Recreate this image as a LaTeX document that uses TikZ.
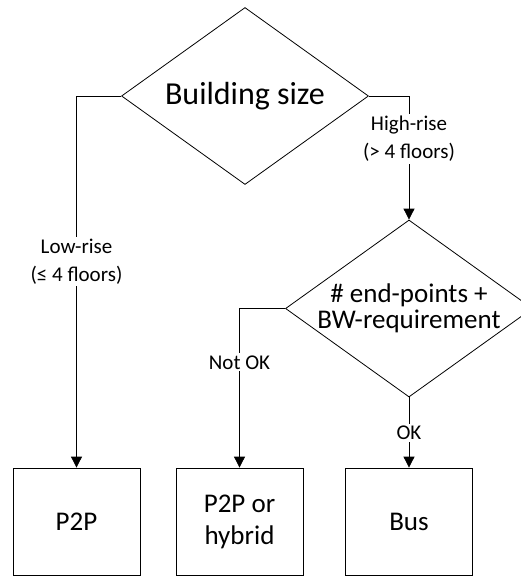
\documentclass[tikz,border=0pt]{standalone}
\usepackage{fontspec}
\setmainfont{Carlito}
\usetikzlibrary{shapes.geometric,arrows.meta}
\begin{document}
\begin{tikzpicture}[x=1pt,y=-1pt,
  decision/.style={draw, shape=diamond, aspect=1.4, inner sep=0pt,
    minimum width=247pt, minimum height=177pt, line width=0.8pt},
  outcome/.style={draw, rectangle, minimum width=127pt, minimum height=107pt,
    inner sep=0pt, align=center, font=\fontsize{27}{32}\selectfont, line width=0.8pt},
  flow/.style={line width=0.8pt, -{Triangle[length=11pt,width=11pt]}},
  edgelabel/.style={fill=white, inner sep=2pt, align=center,
    font=\fontsize{21}{28}\selectfont}
]
\useasboundingbox (0,0) rectangle (521,576);

% decisions
\node[decision, font=\fontsize{32}{38}\selectfont] (size) at (245,96) {Building size};
\node[decision,
  label={[align=center, font=\fontsize{27}{26}\selectfont]center:\# end-points +\\BW-requirement}]
  (bw) at (409,308.5) {};

% outcomes
\node[outcome] (p2p) at (76.5,521.5) {P2P};
\node[outcome] (hyb) at (239.5,521.5) {P2P or\\hybrid};
\node[outcome] (bus) at (409,521.5) {Bus};

% connectors
\draw[flow] (size.west) -| node[edgelabel, pos=0.723] (low) {Low-rise\\(≤ 4 floors)} (p2p.north);
\draw[flow] (size.east) -| node[edgelabel, pos=0.673] (high) {High-rise\\(> 4 floors)} (bw.north);
\draw[flow] (bw.west) -| node[edgelabel, pos=0.669] (nok) {Not OK} (hyb.north);
\draw[flow] (bw.south) -- node[edgelabel, pos=0.51] (ok) {OK} (bus.north);
\end{tikzpicture}
\end{document}
